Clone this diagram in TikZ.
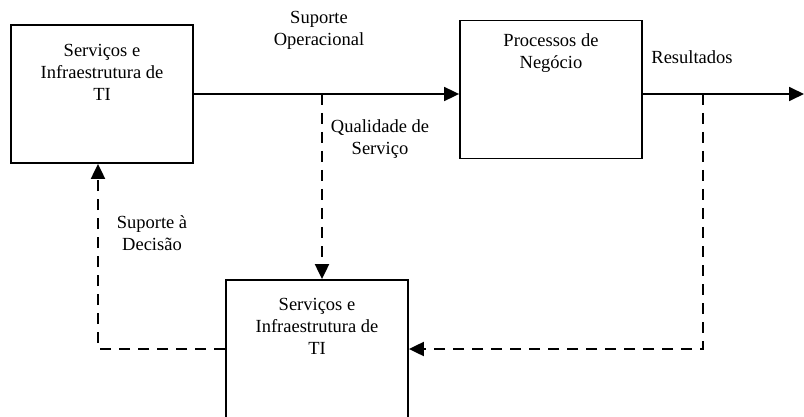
\documentclass[tikz,border=0pt]{standalone}
\usepackage{fontspec}
\setmainfont{Liberation Serif}
\usetikzlibrary{arrows.meta,calc}
\tikzset{box/.style={draw,line width=1.8pt,minimum width=182pt,minimum height=138pt,inner sep=0pt},
  txt/.style={align=center,inner sep=0pt,font=\fontsize{18.5}{22}\selectfont},
  sol/.style={line width=1.8pt},
  dsh/.style={line width=2pt,dash pattern=on 11pt off 8pt},
  tip/.style={-{Triangle[length=15pt,width=14pt]}}}

\begin{document}
\begin{tikzpicture}[x=1pt,y=-1pt]
  \clip (0,0) rectangle (804,417);
  \node[box] (b1) at (102,94) {};
  \node[box] (b2) at (551,89.5) {};
  \node[box] (b3) at (317,349) {};
  \node[txt] (t1) at (102,72) {Serviços e\\Infraestrutura de\\TI};
  \node[txt] (t2) at (551,53) {Processos de\\Negócio};
  \node[txt] (t3) at (317,326) {Serviços e\\Infraestrutura de\\TI};
  \node[txt] (l1) at (319,30) {Suporte\\Operacional};
  \node[txt] (l2) at (380,139) {Qualidade de\\Serviço};
  \node[txt] (l3) at (692,57) {Resultados};
  \node[txt] (l4) at (152,233) {Suporte à\\Decisão};
  \coordinate (j1) at (322,94);
  \coordinate (j2) at (703,94);
  \coordinate (e) at (804,94);
  \coordinate (c1) at (98,349);
  \draw[sol,tip] (b1.east) -- (b2.west |- b1.east);
  \draw[sol,tip] (b2.east |- e) -- (e);
  \draw[dsh,tip] (j1) -- (j1 |- b3.north);
  \draw[dsh,tip] (b3.west) -- (c1) -- (c1 |- b1.south);
  \draw[dsh,tip] (j2) -- (j2 |- b3.east) -- (b3.east);
\end{tikzpicture}
\end{document}
